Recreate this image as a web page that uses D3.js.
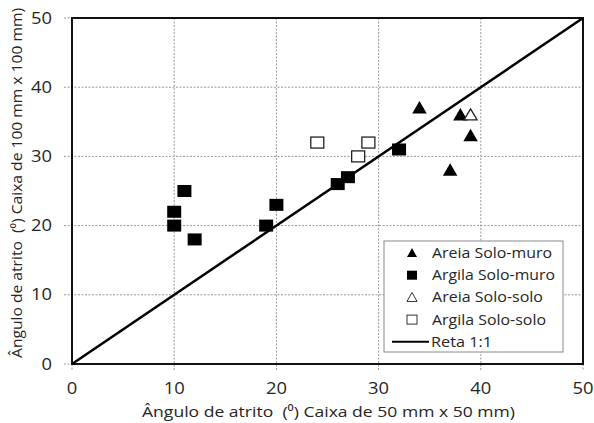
<!DOCTYPE html>
<meta charset="utf-8">
<style>
body { margin: 0; background: #fff; }
text { font-family: "Open Sans", "Noto Sans", sans-serif; fill: #262626; white-space: pre; }
.grid line { stroke: #999; stroke-dasharray: 2,1.5; stroke-width: 1; }
</style>
<svg width="594" height="423"></svg>
<script src="https://d3js.org/d3.v7.min.js"></script>
<script>

// data
var areiaMuro = [[34, 37], [38, 36], [39, 33], [37, 28]];
var argilaMuro = [[10, 22], [10, 20], [11, 25], [12, 18], [19, 20], [20, 23], [26, 26], [27, 27], [32, 31]];
var areiaSolo = [[39, 36]];
var argilaSolo = [[24, 32], [28, 30], [29, 32]];
var reta = [[0, 0], [50, 50]];
var ticks = [0, 10, 20, 30, 40, 50];
var legendLabels = ["Areia Solo-muro", "Argila Solo-muro", "Areia Solo-solo", "Argila Solo-solo", "Reta 1:1"];
var legendWidths = [120, 123, 111, 114, 61];

var svg = d3.select("svg"),
    margin = {top: 18, right: 11, bottom: 59, left: 72},
    width = +svg.attr("width") - margin.left - margin.right,
    height = +svg.attr("height") - margin.top - margin.bottom;

var x = d3.scaleLinear().domain([0, 50]).range([0, width]),
    y = d3.scaleLinear().domain([0, 50]).range([height, 0]);

var g = svg.append("g")
    .attr("transform", "translate(" + margin.left + "," + margin.top + ")");

// grid
var grid = g.append("g").attr("class", "grid");
grid.selectAll(".vx").data(ticks.slice(1, 5)).enter().append("line")
    .attr("x1", function(d) { return x(d); }).attr("x2", function(d) { return x(d); })
    .attr("y1", 0).attr("y2", height + 6);
grid.selectAll(".hy").data(ticks.slice(1, 5)).enter().append("line")
    .attr("y1", function(d) { return y(d); }).attr("y2", function(d) { return y(d); })
    .attr("x1", -8).attr("x2", width);
// tick stubs at the ends
grid.selectAll(".ex").data([0, 50]).enter().append("line")
    .attr("x1", function(d) { return x(d); }).attr("x2", function(d) { return x(d); })
    .attr("y1", height).attr("y2", height + 6);
grid.selectAll(".ey").data([0, 50]).enter().append("line")
    .attr("y1", function(d) { return y(d); }).attr("y2", function(d) { return y(d); })
    .attr("x1", -8).attr("x2", 0);

// tick labels
g.selectAll(".xt").data(ticks).enter().append("text")
    .attr("x", function(d) { return x(d); })
    .attr("y", height + 30)
    .attr("text-anchor", "middle")
    .attr("textLength", function(d) { return String(d).length * 10.5; })
    .attr("lengthAdjust", "spacingAndGlyphs")
    .style("font-size", "15.5px")
    .text(function(d) { return d; });
g.selectAll(".yt").data(ticks).enter().append("text")
    .attr("x", -20)
    .attr("y", function(d) { return y(d) + 5.5; })
    .attr("text-anchor", "end")
    .attr("textLength", function(d) { return String(d).length * 10.5; })
    .attr("lengthAdjust", "spacingAndGlyphs")
    .style("font-size", "15.5px")
    .text(function(d) { return d; });

// plot frame
g.append("rect")
    .attr("width", width).attr("height", height)
    .attr("fill", "none").attr("stroke", "#111").attr("stroke-width", 2);

// 1:1 line
g.append("path")
    .datum(reta)
    .attr("d", d3.line().x(function(d) { return x(d[0]); }).y(function(d) { return y(d[1]); }))
    .attr("stroke", "#000").attr("stroke-width", 2.5).attr("fill", "none");

function tri(w, h) {
  return "M0," + (-h * 0.55) + "L" + (w / 2) + "," + (h * 0.45) + "L" + (-w / 2) + "," + (h * 0.45) + "Z";
}

// markers
g.selectAll(".am").data(areiaMuro).enter().append("path")
    .attr("transform", function(d) { return "translate(" + x(d[0]) + "," + y(d[1]) + ")"; })
    .attr("d", tri(14.5, 12.5)).attr("fill", "#000");

g.selectAll(".gm").data(argilaMuro).enter().append("rect")
    .attr("x", function(d) { return x(d[0]) - 7; })
    .attr("y", function(d) { return y(d[1]) - 6; })
    .attr("width", 14).attr("height", 12)
    .attr("fill", "#000");

g.selectAll(".as").data(areiaSolo).enter().append("path")
    .attr("transform", function(d) { return "translate(" + x(d[0]) + "," + y(d[1]) + ")"; })
    .attr("d", tri(13, 11)).attr("fill", "#fff").attr("stroke", "#222").attr("stroke-width", 1.3);

g.selectAll(".gs").data(argilaSolo).enter().append("rect")
    .attr("x", function(d) { return x(d[0]) - 6.5; })
    .attr("y", function(d) { return y(d[1]) - 5.5; })
    .attr("width", 13).attr("height", 11)
    .attr("fill", "#fff").attr("stroke", "#222").attr("stroke-width", 1.3);

// axis titles
svg.append("text")
    .attr("x", 142).attr("y", 417)
    .attr("textLength", 373)
    .attr("lengthAdjust", "spacingAndGlyphs")
    .style("font-size", "15px")
    .text("Ângulo de atrito  (⁰) Caixa de 50 mm x 50 mm)");
svg.append("text")
    .attr("transform", "translate(22,358) rotate(-90)")
    .attr("textLength", 350)
    .attr("lengthAdjust", "spacingAndGlyphs")
    .style("font-size", "14px")
    .text("Ângulo de atrito  (⁰) Caixa de 100 mm x 100 mm)");

// legend
var lg = svg.append("g").attr("transform", "translate(384,241)");
lg.append("rect").attr("width", 179).attr("height", 111)
    .attr("fill", "#fff").attr("stroke", "#888").attr("stroke-width", 1);

var rows = lg.selectAll(".row").data(legendLabels).enter().append("g")
    .attr("transform", function(d, i) { return "translate(0," + (12 + i * 22.2) + ")"; });
rows.append("text")
    .attr("x", function(d, i) { return i === 4 ? 47 : 48; }).attr("y", 5)
    .attr("textLength", function(d, i) { return legendWidths[i]; })
    .attr("lengthAdjust", "spacingAndGlyphs")
    .style("font-size", "14.5px")
    .text(function(d) { return d; });

rows.filter(function(d, i) { return i === 0; }).append("path")
    .attr("transform", "translate(28,0)").attr("d", tri(10, 9)).attr("fill", "#000");
rows.filter(function(d, i) { return i === 1; }).append("rect")
    .attr("x", 23).attr("y", -4.5).attr("width", 10).attr("height", 9).attr("fill", "#000");
rows.filter(function(d, i) { return i === 2; }).append("path")
    .attr("transform", "translate(28,0)").attr("d", tri(10, 9))
    .attr("fill", "#fff").attr("stroke", "#333").attr("stroke-width", 1);
rows.filter(function(d, i) { return i === 3; }).append("rect")
    .attr("x", 23).attr("y", -4.5).attr("width", 10).attr("height", 9)
    .attr("fill", "#fff").attr("stroke", "#333").attr("stroke-width", 1);
rows.filter(function(d, i) { return i === 4; }).append("line")
    .attr("x1", 8).attr("x2", 45).attr("y1", 0).attr("y2", 0)
    .attr("stroke", "#000").attr("stroke-width", 2);

</script>
